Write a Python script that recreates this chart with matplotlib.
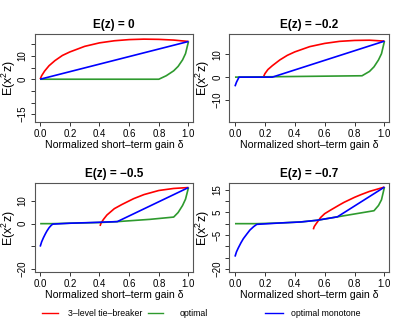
import numpy as np
import matplotlib
matplotlib.use('Agg')
import matplotlib.pyplot as plt
from matplotlib.lines import Line2D

plt.rcParams['font.family'] = ['Liberation Sans', 'DejaVu Sans']
plt.rcParams['mathtext.fontset'] = 'custom'
plt.rcParams['mathtext.rm'] = 'Liberation Sans'
plt.rcParams['mathtext.it'] = 'Liberation Sans'

titles = ["E(z) = 0", "E(z) = \u22120.2", "E(z) = \u22120.5", "E(z) = \u22120.7"]

# panel 1: E(z) = 0
red1_d = [0, 0.01, 0.03, 0.06, 0.1, 0.15, 0.2, 0.3, 0.4, 0.5, 0.6, 0.7, 0.8, 0.9, 1.0]
red1_v = [0, 1.5, 3.5, 5.8, 8.0, 10.2, 11.7, 14.1, 15.6, 16.5, 17.0, 17.2, 17.1, 16.8, 16.2]
grn1_d = [0, 0.8, 0.85, 0.9, 0.93, 0.96, 0.98, 1.0]
grn1_v = [0, 0, 1.5, 3.6, 5.5, 8.3, 11.0, 16.2]
blu1_d = [0, 1.0]
blu1_v = [0, 16.2]

# panel 2: E(z) = -0.2
red2_d = [0.19, 0.2, 0.22, 0.25, 0.3, 0.35, 0.4, 0.5, 0.6, 0.7, 0.8, 0.9, 1.0]
red2_v = [0, 1.5, 3.3, 5.0, 7.5, 9.5, 11.0, 13.3, 14.7, 15.6, 16.0, 16.1, 15.7]
grn2_d = [0, 0.85, 0.9, 0.93, 0.96, 0.98, 1.0]
grn2_v = [0, 0.6, 2.5, 4.5, 7.5, 10.2, 15.7]
blu2_d = [0, 0.01, 0.027, 0.25, 1.0]
blu2_v = [-4.0, -2.2, 0, 0, 15.7]

# panel 3: E(z) = -0.5
red3_d = [0.404, 0.41, 0.427, 0.45, 0.5, 0.55, 0.63, 0.7, 0.8, 0.9, 1.0]
red3_v = [-1.0, 0.2, 1.9, 3.8, 6.6, 8.4, 11.0, 12.8, 14.6, 15.5, 15.9]
grn3_d = [0, 0.085, 0.2, 0.4, 0.52, 0.74, 0.9, 0.93, 0.96, 0.98, 1.0]
grn3_v = [0, 0, 0.2, 0.5, 0.9, 1.9, 2.9, 4.9, 8.0, 10.8, 15.9]
blu3_d = [0, 0.01, 0.022, 0.035, 0.045, 0.06, 0.075, 0.085, 0.2, 0.35, 0.52, 1.0]
blu3_v = [-10.1, -8.0, -6.2, -4.5, -3.3, -1.8, -0.7, -0.2, 0.2, 0.5, 0.9, 15.9]

# panel 4: E(z) = -0.7
red4_d = [0.524, 0.53, 0.54, 0.573, 0.6, 0.64, 0.7, 0.73, 0.8, 0.84, 0.9, 1.0]
red4_v = [-2.5, -1.3, -0.3, 2.7, 4.4, 6.0, 8.3, 9.4, 11.6, 12.7, 14.2, 16.1]
grn4_d = [0, 0.146, 0.3, 0.44, 0.55, 0.685, 0.93, 0.96, 0.98, 1.0]
grn4_v = [0, 0, 0.3, 0.75, 1.5, 3.0, 5.7, 8.0, 10.5, 16.1]
blu4_d = [0, 0.01, 0.022, 0.04, 0.056, 0.08, 0.1, 0.125, 0.146, 0.3, 0.44, 0.55, 0.685, 1.0]
blu4_v = [-14.5, -12.4, -10.7, -8.4, -6.6, -4.5, -2.8, -1.3, -0.3, 0.3, 0.75, 1.5, 3.0, 16.1]

reds = [(red1_d, red1_v), (red2_d, red2_v), (red3_d, red3_v), (red4_d, red4_v)]
grns = [(grn1_d, grn1_v), (grn2_d, grn2_v), (grn3_d, grn3_v), (grn4_d, grn4_v)]
blus = [(blu1_d, blu1_v), (blu2_d, blu2_v), (blu3_d, blu3_v), (blu4_d, blu4_v)]

# y ticks and which of them get a label (R drops overlapping ones)
yticks = [[-15, -10, -5, 0, 5, 10, 15], [-10, 0, 10], [-20, -10, 0, 10], [-20, -15, -10, -5, 0, 5, 10, 15]]
ylabeled = [[-15, 0, 10], [-10, 0, 10], [-20, 0, 10], [-20, -5, 5, 15]]
ylims = [(-18.2, 19.4), (-19.4, 18.8), (-21.3, 17.7), (-21.3, 17.7)]
xticks = [0.0, 0.2, 0.4, 0.6, 0.8, 1.0]

labels = ["3\u2013level tie\u2013breaker", "optimal", "optimal monotone"]
colors = ["#ff0000", "#2e9a2e", "#0000ff"]

fig = plt.figure(figsize=(4.07, 3.27), dpi=100)
boxes = [[0.0848, 0.628, 0.390, 0.268], [0.5634, 0.628, 0.393, 0.268],
         [0.0848, 0.168, 0.390, 0.271], [0.5634, 0.168, 0.393, 0.271]]

def fmt(v):
    return str(v).replace('-', '\u2212')

for i in range(4):
    ax = fig.add_axes(boxes[i])
    for (d, v), c in zip([reds[i], grns[i], blus[i]], colors):
        ax.plot(d, v, color=c, lw=1.2, solid_capstyle='butt')
    ax.set_xlim(-0.038, 1.032)
    ax.set_ylim(*ylims[i])
    ax.set_xticks(xticks)
    ax.set_xticklabels(["%.1f" % t for t in xticks])
    ax.set_yticks(yticks[i])
    ax.set_yticklabels([fmt(t) if t in ylabeled[i] else "" for t in yticks[i]],
                       rotation=90, va='center')
    ax.tick_params(axis='both', labelsize=7.0, length=3.2, width=0.7, pad=1.8, color='#333333')
    for s in ax.spines.values():
        s.set_color('#555555')
        s.set_linewidth(0.8)
    ax.set_title(titles[i], fontsize=8.5, fontweight='bold', pad=4.5)
    ax.set_xlabel("Normalized short\u2013term gain \u03b4", fontsize=7.6, labelpad=1)
    ax.set_ylabel(r"$\mathrm{E(x^2z)}$", fontsize=9, labelpad=0)

# legend row at the bottom
ly = 0.042
for (x0, x1, xt), lab, c in zip([(0.102, 0.143, 0.168), (0.364, 0.401, 0.442), (0.651, 0.695, 0.716)],
                                labels, colors):
    fig.add_artist(Line2D([x0, x1], [ly, ly], color=c, lw=1.0, transform=fig.transFigure))
    fig.text(xt, ly, lab, fontsize=6.3, va='center', ha='left')

fig.savefig("out.png", dpi=100)
